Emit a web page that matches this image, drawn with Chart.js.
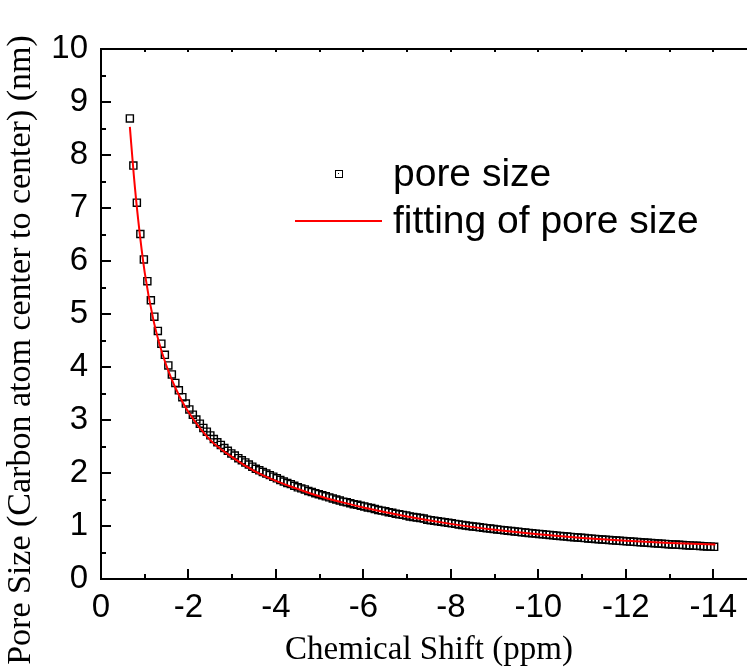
<!DOCTYPE html>
<html>
<head>
<meta charset="utf-8">
<script src="https://cdn.jsdelivr.net/npm/chart.js@4.4.1/dist/chart.umd.min.js"></script>
<style>
  html, body { margin: 0; padding: 0; background: #fff; overflow: hidden; }
  #wrap { width: 747px; height: 671px; overflow: hidden; position: relative; }
  #chart { display: block; }
</style>
</head>
<body>
<div id="wrap"><canvas id="chart" width="770" height="671"></canvas></div>
<script>
// measured points (chemical shift in ppm, pore size in nm)
const shiftPpm = [
  -0.66, -0.74, -0.82, -0.90, -0.98, -1.06, -1.14, -1.22, -1.30, -1.38,
  -1.46, -1.54, -1.62, -1.70, -1.78, -1.86, -1.94, -2.02, -2.10, -2.18,
  -2.26, -2.34, -2.42, -2.50, -2.58, -2.66, -2.74, -2.82, -2.90, -2.98,
  -3.06, -3.14, -3.22, -3.30, -3.38, -3.46, -3.54, -3.62, -3.70, -3.78,
  -3.86, -3.94, -4.02, -4.10, -4.18, -4.26, -4.34, -4.42, -4.50, -4.58,
  -4.66, -4.74, -4.82, -4.90, -4.98, -5.06, -5.14, -5.22, -5.30, -5.38,
  -5.46, -5.54, -5.62, -5.70, -5.78, -5.86, -5.94, -6.02, -6.10, -6.18,
  -6.26, -6.34, -6.42, -6.50, -6.58, -6.66, -6.74, -6.82, -6.90, -6.98,
  -7.06, -7.14, -7.22, -7.30, -7.38, -7.46, -7.54, -7.62, -7.70, -7.78,
  -7.86, -7.94, -8.02, -8.10, -8.18, -8.26, -8.34, -8.42, -8.50, -8.58,
  -8.66, -8.74, -8.82, -8.90, -8.98, -9.06, -9.14, -9.22, -9.30, -9.38,
  -9.46, -9.54, -9.62, -9.70, -9.78, -9.86, -9.94, -10.02, -10.10, -10.18,
  -10.26, -10.34, -10.42, -10.50, -10.58, -10.66, -10.74, -10.82, -10.90, -10.98,
  -11.06, -11.14, -11.22, -11.30, -11.38, -11.46, -11.54, -11.62, -11.70, -11.78,
  -11.86, -11.94, -12.02, -12.10, -12.18, -12.26, -12.34, -12.42, -12.50, -12.58,
  -12.66, -12.74, -12.82, -12.90, -12.98, -13.06, -13.14, -13.22, -13.30, -13.38,
  -13.46, -13.54, -13.62, -13.70, -13.78, -13.86, -13.94, -14.02
];
const poreSize = [
  8.69, 7.80, 7.10, 6.51, 6.03, 5.62, 5.26, 4.95, 4.68, 4.44,
  4.23, 4.03, 3.86, 3.70, 3.56, 3.43, 3.31, 3.20, 3.10, 3.01,
  2.93, 2.85, 2.78, 2.71, 2.64, 2.58, 2.53, 2.47, 2.42, 2.37,
  2.33, 2.28, 2.24, 2.20, 2.16, 2.12, 2.08, 2.05, 2.02, 1.99,
  1.96, 1.93, 1.90, 1.87, 1.84, 1.81, 1.79, 1.76, 1.73, 1.71,
  1.69, 1.66, 1.64, 1.62, 1.60, 1.58, 1.56, 1.54, 1.52, 1.50,
  1.48, 1.46, 1.45, 1.43, 1.41, 1.40, 1.38, 1.37, 1.35, 1.34,
  1.32, 1.30, 1.29, 1.28, 1.26, 1.25, 1.23, 1.22, 1.21, 1.20,
  1.18, 1.17, 1.16, 1.15, 1.14, 1.12, 1.11, 1.10, 1.09, 1.08,
  1.07, 1.06, 1.05, 1.04, 1.03, 1.02, 1.01, 1.00, 0.99, 0.985,
  0.976, 0.967, 0.959, 0.951, 0.943, 0.935, 0.927, 0.920, 0.912, 0.905,
  0.897, 0.890, 0.883, 0.876, 0.870, 0.863, 0.856, 0.850, 0.843, 0.837,
  0.831, 0.824, 0.818, 0.812, 0.806, 0.800, 0.794, 0.789, 0.783, 0.777,
  0.772, 0.766, 0.761, 0.756, 0.750, 0.745, 0.740, 0.735, 0.730, 0.725,
  0.720, 0.716, 0.711, 0.706, 0.701, 0.697, 0.692, 0.688, 0.683, 0.679,
  0.674, 0.670, 0.666, 0.662, 0.657, 0.653, 0.649, 0.645, 0.641, 0.637,
  0.633, 0.629, 0.626, 0.622, 0.618, 0.614, 0.611, 0.607
];

// fitted curve, read at a few points along the red line
const fitShift = [-0.66, -0.75, -0.85, -1.0, -1.2, -1.4, -1.6, -1.8, -2.0, -2.5, -3.0, -3.5,
  -4.0, -4.5, -5.0, -5.5, -6.0, -7.0, -8.0, -9.0, -10.0, -11.0, -12.0, -13.0, -14.05];
const fitPore = [8.53, 7.62, 6.78, 5.78, 4.88, 4.26, 3.80, 3.44, 3.15, 2.62, 2.30, 2.04,
  1.85, 1.70, 1.56, 1.45, 1.35, 1.18, 1.04, 0.93, 0.845, 0.775, 0.72, 0.68, 0.65];

const xTicks = [0, -2, -4, -6, -8, -10, -12, -14];
const yTicks = [0, 1, 2, 3, 4, 5, 6, 7, 8, 9, 10];
const seriesNames = ['pore size', 'fitting of pore size'];
const xTitle = 'Chemical Shift (ppm)';
const yTitle = 'Pore Size (Carbon atom center to center) (nm)';

const sansFont = '"Liberation Sans", Arial, sans-serif';
const serifFont = '"Liberation Serif", "Times New Roman", serif';

// frame, inward tick marks, y title and legend
const decorations = {
  id: 'decorations',
  afterDraw(chart) {
    const { ctx, chartArea: a, scales: { x, y } } = chart;
    ctx.save();
    ctx.strokeStyle = '#000';
    ctx.lineWidth = 2;
    ctx.beginPath();
    for (let v = 0; v >= -15; v -= 1) {
      const px = Math.round(x.getPixelForValue(v));
      const len = v % 2 === 0 ? 10 : 5;
      ctx.moveTo(px, a.bottom); ctx.lineTo(px, a.bottom - len);
      ctx.moveTo(px, a.top); ctx.lineTo(px, a.top + 3);
    }
    for (let v = 0; v <= 10; v += 0.5) {
      const py = Math.round(y.getPixelForValue(v));
      const len = Number.isInteger(v) ? 10 : 5;
      ctx.moveTo(a.left, py); ctx.lineTo(a.left + len, py);
    }
    ctx.stroke();
    ctx.strokeRect(a.left, a.top, a.right - a.left, a.bottom - a.top);

    // y title (sits lower than the axis centre in the original)
    ctx.fillStyle = '#000';
    ctx.font = '34px ' + serifFont;
    ctx.textAlign = 'center';
    ctx.textBaseline = 'middle';
    ctx.translate(21, 350);
    ctx.rotate(-Math.PI / 2);
    ctx.fillText(yTitle, 0, 0);
    ctx.restore();

    // legend inside the plot
    ctx.save();
    ctx.strokeStyle = '#000';
    ctx.lineWidth = 1;
    ctx.strokeRect(335.5, 170.5, 7, 7);
    ctx.fillStyle = '#000';
    ctx.fillRect(338, 173, 1, 1);
    ctx.strokeStyle = '#ff0000';
    ctx.lineWidth = 2;
    ctx.beginPath();
    ctx.moveTo(295, 221); ctx.lineTo(382, 221);
    ctx.stroke();
    ctx.font = '39px ' + sansFont;
    ctx.textAlign = 'left';
    ctx.textBaseline = 'alphabetic';
    ctx.fillText(seriesNames[0], 393, 186);
    ctx.fillText(seriesNames[1], 393, 233);
    ctx.restore();
  }
};

const ctx = document.getElementById('chart').getContext('2d');
new Chart(ctx, {
  type: 'scatter',
  data: {
    datasets: [{
      label: seriesNames[1],
      data: fitShift.map((v, i) => ({ x: v, y: fitPore[i] })),
      showLine: true,
      borderColor: '#ff0000',
      borderWidth: 2,
      pointRadius: 0,
      cubicInterpolationMode: 'monotone',
      order: 0
    }, {
      label: seriesNames[0],
      data: shiftPpm.map((v, i) => ({ x: v, y: poreSize[i] })),
      pointStyle: 'rect',
      pointRadius: 5,
      borderColor: '#000',
      borderWidth: 1.4,
      backgroundColor: 'rgba(0,0,0,0)',
      order: 1
    }]
  },
  options: {
    responsive: false,
    animation: false,
    devicePixelRatio: 1,
    events: [],
    layout: { padding: { top: 49, right: 13, left: 0, bottom: 0 } },
    plugins: { legend: { display: false }, tooltip: { enabled: false } },
    scales: {
      x: {
        type: 'linear',
        min: -15,
        max: 0,
        reverse: true,
        afterBuildTicks: s => { s.ticks = xTicks.map(v => ({ value: v })); },
        afterFit: s => { s.height = 92; },
        grid: { display: false, drawTicks: false },
        border: { display: false },
        ticks: {
          color: '#000',
          font: { family: sansFont, size: 33 },
          padding: 9,
          maxRotation: 0,
          autoSkip: false,
          callback: v => String(v)
        },
        title: {
          display: true,
          text: xTitle,
          color: '#000',
          font: { family: serifFont, size: 33 },
          padding: { top: 0, bottom: 1 }
        }
      },
      y: {
        type: 'linear',
        min: 0,
        max: 10,
        afterBuildTicks: s => { s.ticks = yTicks.map(v => ({ value: v })); },
        afterFit: s => { s.width = 101; },
        grid: { display: false, drawTicks: false },
        border: { display: false },
        ticks: {
          color: '#000',
          font: { family: sansFont, size: 33 },
          padding: 13,
          autoSkip: false,
          callback: v => String(v)
        }
      }
    }
  },
  plugins: [decorations]
});
</script>
</body>
</html>
